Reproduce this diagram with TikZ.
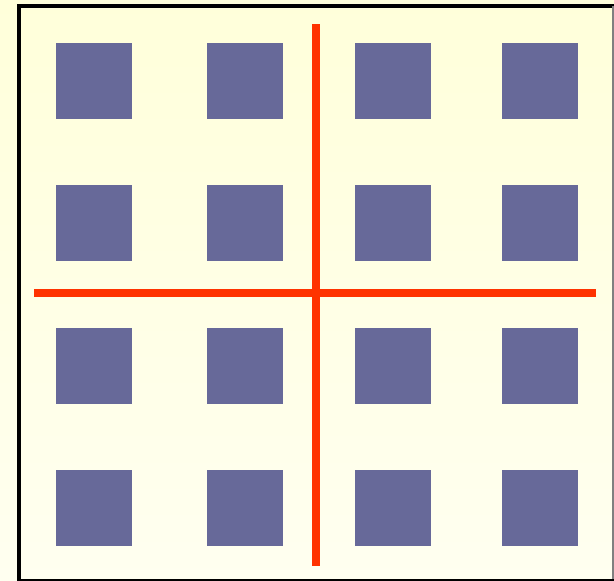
\documentclass[tikz,border=0pt]{standalone}
\definecolor{paperTop}{RGB}{255,255,218}
\definecolor{paperLow}{RGB}{255,255,240}
\definecolor{cellBlue}{RGB}{103,105,153}
\definecolor{cutRed}{RGB}{255,51,0}
\tikzset{
  cellbox/.style={fill=cellBlue, draw=none, inner sep=0pt, minimum size=76pt},
  cutline/.style={cutRed, line width=8pt},
}
\begin{document}
\begin{tikzpicture}[x=1pt, y=-1pt]
    \useasboundingbox (0,0) rectangle (614,581);
    % 背景
    \shade[top color=paperTop, bottom color=paperLow] (0,0) rectangle (614,581);

    % 边框
    \draw[line width=4pt] (19,581) -- (19,6) -- (614,6);
    \draw[gray, line width=1.5pt] (613,6) -- (613,581);
    \draw[line width=2pt] (19,580) -- (614,580);

    % 4x4 方块
    \foreach \x [count=\i] in {94,245,393,540}
        \foreach \y [count=\j] in {81,223,366,508}
            \node[cellbox] (c\i\j) at (\x,\y) {};

    % 分割线
    \coordinate (vtop) at (315.5,24);
    \coordinate (vbot) at (315.5,566);
    \coordinate (hleft) at (34,293);
    \coordinate (hright) at (596,293);
    \draw[cutline] (vtop) -- (vbot);
    \draw[cutline] (hleft) -- (hright);
\end{tikzpicture}
\end{document}
